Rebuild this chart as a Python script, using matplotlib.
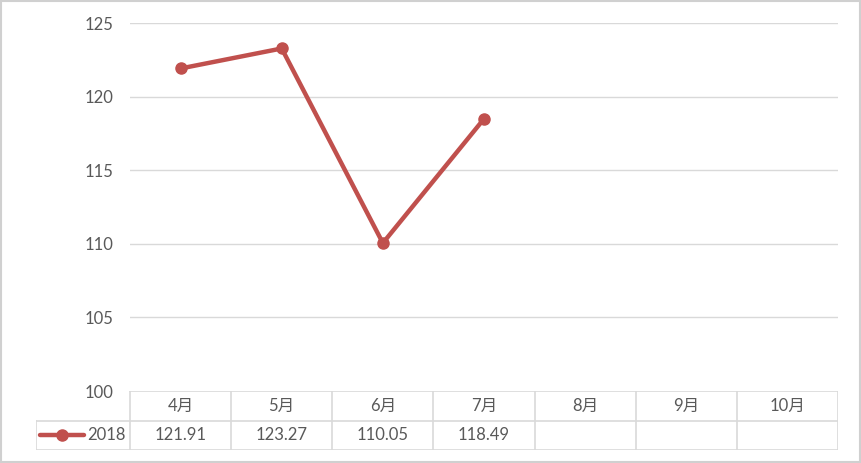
import numpy as np
import matplotlib.pyplot as plt
from matplotlib.patches import Rectangle

plt.rcParams['font.family'] = ['Lato', 'Noto Sans CJK SC', 'DejaVu Sans']

months = ['4月', '5月', '6月', '7月', '8月', '9月', '10月']
values_2018 = [121.91, 123.27, 110.05, 118.49]
series_name = '2018'
y_ticks = [100, 105, 110, 115, 120, 125]

line_color = '#C0504D'
text_color = '#595959'
grid_color = '#D9D9D9'
fs = 12

W, H = 862, 463
fig = plt.figure(figsize=(W / 100, H / 100), dpi=100)

def px_rect(x0, y0, x1, y1):
  # pixel box (top-left origin) -> figure fraction
  return [x0 / W, 1 - y1 / H, (x1 - x0) / W, (y1 - y0) / H]

# outer frame
fig.patches.append(Rectangle((0.001, 0.002), 0.997, 0.995, transform=fig.transFigure,
                             fill=False, edgecolor='#D0D0D0', linewidth=1.5))

ax = fig.add_axes(px_rect(130, 23, 838, 391))
x = np.arange(len(months))
ax.plot(x[:len(values_2018)], values_2018, color=line_color, linewidth=3.2,
        marker='o', markersize=8, solid_capstyle='round')
ax.set_xlim(-0.5, len(months) - 0.5)
ax.set_ylim(100, 125)
ax.set_yticks(y_ticks)
ax.set_yticklabels([str(t) for t in y_ticks], color=text_color, fontsize=fs)
ax.tick_params(axis='y', length=0, pad=12)
ax.set_xticks([])
for t in y_ticks[1:]:
  ax.axhline(t, color=grid_color, linewidth=1, zorder=0)
for s in ax.spines.values():
  s.set_visible(False)

# data table under the plot
col_w = 708 / len(months)
leg_w = (130 - 36) / col_w
tab = fig.add_axes(px_rect(36, 391, 838, 450))
tab.set_xlim(-0.5 - leg_w, len(months) - 0.5)
tab.set_ylim(0, 2)
tab.axis('off')
tab_line = dict(color=grid_color, linewidth=1.2)
tab.plot([-0.5, len(months) - 0.5], [2, 2], **tab_line)
tab.plot([-0.5 - leg_w, len(months) - 0.5], [1, 1], **tab_line)
tab.plot([-0.5 - leg_w, len(months) - 0.5], [0, 0], **tab_line)
tab.plot([-0.5 - leg_w, -0.5 - leg_w], [0, 1], **tab_line)
for i in range(len(months) + 1):
  tab.plot([i - 0.5, i - 0.5], [0, 2], **tab_line)

for i, m in enumerate(months):
  tab.text(i, 1.5, m, ha='center', va='center', color=text_color, fontsize=fs)
for i, v in enumerate(values_2018):
  tab.text(i, 0.5, f'{v:.2f}', ha='center', va='center', color=text_color, fontsize=fs)

# legend key in the row header
lx0 = -0.5 - leg_w + 0.04
lx1 = lx0 + 0.43
tab.plot([lx0, lx1], [0.5, 0.5], color=line_color, linewidth=3.2, solid_capstyle='round')
tab.plot([(lx0 + lx1) / 2], [0.5], color=line_color, marker='o', markersize=8)
tab.text(-0.5 - 0.04, 0.5, series_name, ha='right', va='center', color=text_color, fontsize=fs)

fig.savefig('out.png', dpi=100)
